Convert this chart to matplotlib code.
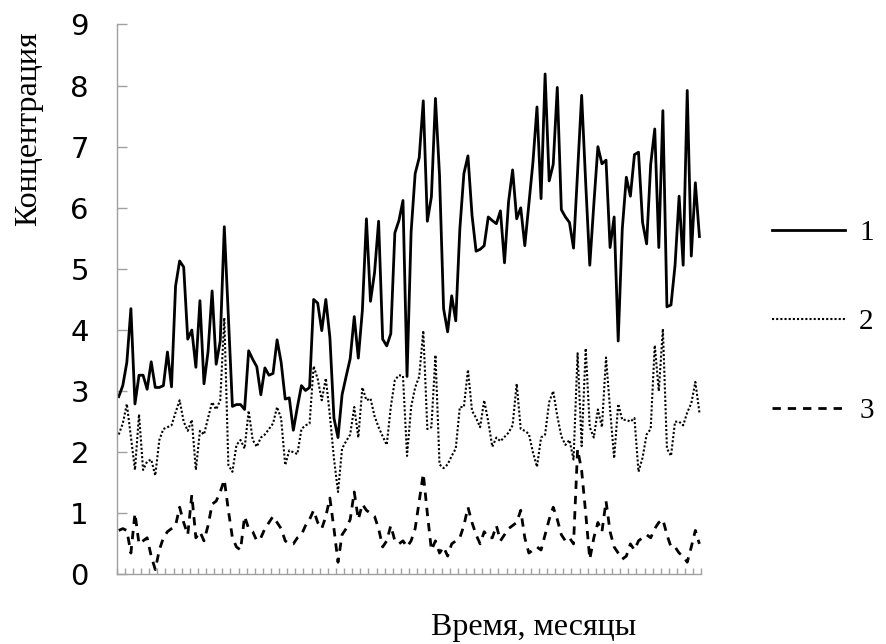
import numpy as np
import matplotlib
matplotlib.use('Agg')
import matplotlib.pyplot as plt

# series (monthly values, 144 months)
conc_1 = [2.91, 3.09, 3.47, 4.35, 2.79, 3.26, 3.26, 3.03, 3.48, 3.06,
          3.06, 3.09, 3.64, 3.07, 4.72, 5.13, 5.03, 3.85, 4.0, 3.39,
          4.48, 3.12, 3.65, 4.64, 3.44, 3.82, 5.69, 4.2, 2.75, 2.78,
          2.78, 2.7, 3.66, 3.52, 3.4, 2.94, 3.38, 3.26, 3.29, 3.84,
          3.47, 2.87, 2.89, 2.36, 2.74, 3.09, 3.01, 3.06, 4.5, 4.44,
          3.99, 4.5, 3.88, 2.56, 2.24, 2.94, 3.24, 3.53, 4.22, 3.54,
          4.32, 5.82, 4.47, 4.94, 5.78, 3.85, 3.74, 3.94, 5.59, 5.79,
          6.12, 3.24, 5.6, 6.56, 6.82, 7.75, 5.78, 6.18, 7.79, 6.53,
          4.35, 3.97, 4.56, 4.15, 5.65, 6.56, 6.85, 5.88, 5.29, 5.32,
          5.38, 5.85, 5.79, 5.74, 5.95, 5.1, 6.1, 6.62, 5.82, 6.0,
          5.38, 6.06, 6.74, 7.65, 6.15, 8.19, 6.44, 6.71, 7.97, 5.97,
          5.85, 5.76, 5.34, 6.6, 7.84, 6.4, 5.06, 6.06, 7.0, 6.72,
          6.78, 5.35, 5.85, 3.82, 5.65, 6.5, 6.19, 6.87, 6.91, 5.76,
          5.41, 6.71, 7.29, 5.35, 7.59, 4.38, 4.41, 5.06, 6.19, 5.06,
          7.92, 5.21, 6.41, 5.53]

conc_2 = [2.29, 2.47, 2.79, 2.25, 1.71, 2.62, 1.71, 1.85, 1.88, 1.62,
          2.2, 2.38, 2.41, 2.44, 2.65, 2.85, 2.5, 2.35, 2.53, 1.71,
          2.35, 2.29, 2.56, 2.82, 2.7, 2.85, 4.2, 1.79, 1.68, 2.12,
          2.2, 2.06, 2.68, 2.2, 2.09, 2.24, 2.29, 2.38, 2.47, 2.74,
          2.55, 1.79, 2.03, 2.0, 1.97, 2.38, 2.44, 2.47, 3.41, 3.2,
          2.85, 3.21, 2.6, 1.9, 1.35, 2.06, 2.18, 2.29, 2.74, 2.24,
          3.06, 2.85, 2.88, 2.59, 2.41, 2.26, 2.12, 2.74, 3.18, 3.26,
          3.25, 1.94, 2.74, 3.06, 3.24, 3.99, 2.38, 2.41, 3.59, 1.8,
          1.74, 1.8, 1.94, 2.06, 2.74, 2.74, 3.35, 2.68, 2.56, 2.41,
          2.85, 2.5, 2.09, 2.24, 2.18, 2.25, 2.32, 2.44, 3.12, 2.38,
          2.35, 2.3, 2.0, 1.76, 2.24, 2.29, 2.82, 3.0, 2.59, 2.26,
          2.12, 2.2, 1.88, 3.62, 2.1, 3.7, 2.41, 2.24, 2.7, 2.41,
          3.55, 2.7, 1.9, 2.79, 2.53, 2.53, 2.5, 2.56, 1.68, 1.91,
          2.29, 2.38, 3.75, 3.0, 4.02, 2.06, 1.94, 2.5, 2.5, 2.44,
          2.65, 2.8, 3.15, 2.65]

conc_3 = [0.72, 0.75, 0.72, 0.35, 1.0, 0.5, 0.55, 0.6, 0.3, 0.08,
          0.4, 0.6, 0.7, 0.75, 0.8, 1.1, 0.85, 0.65, 1.3, 0.6,
          0.7, 0.55, 0.8, 1.15, 1.2, 1.35, 1.55, 1.05, 0.6, 0.45,
          0.4, 0.95, 0.75, 0.7, 0.55, 0.6, 0.75, 0.85, 0.95, 0.85,
          0.75, 0.55, 0.5, 0.5, 0.6, 0.65, 0.8, 0.9, 1.05, 0.85,
          0.75, 0.95, 1.25, 0.75, 0.2, 0.65, 0.75, 0.9, 1.35, 0.9,
          1.15, 1.05, 1.0, 0.95, 0.75, 0.45, 0.55, 0.8, 0.55, 0.5,
          0.55, 0.45, 0.55, 0.75, 1.2, 1.65, 1.0, 0.4, 0.55, 0.35,
          0.45, 0.3, 0.5, 0.55, 0.6, 0.8, 1.1, 0.85, 0.65, 0.5,
          0.7, 0.6, 0.6, 0.8, 0.55, 0.65, 0.75, 0.8, 0.85, 1.05,
          0.6, 0.35, 0.4, 0.45, 0.4, 0.65, 0.9, 1.1, 0.9, 0.65,
          0.55, 0.6, 0.5, 2.05, 1.7, 1.0, 0.25, 0.6, 0.85, 0.7,
          1.2, 0.7, 0.45, 0.35, 0.25, 0.3, 0.5, 0.4, 0.55, 0.6,
          0.65, 0.6, 0.75, 0.85, 0.9, 0.65, 0.45, 0.45, 0.35, 0.3,
          0.2, 0.45, 0.72, 0.5]

series_names = ['1', '2', '3']
y_ticks = list(range(0, 10))
y_title = 'Концентрация'
x_title = 'Время, месяцы'

months = np.arange(len(conc_1))
grey = '#a0a0a0'
serif = 'Liberation Serif'

fig = plt.figure(figsize=(8.86, 6.44), dpi=100)
ax = fig.add_axes([0.1317, 0.108, 0.660, 0.854])

ax.plot(months, conc_1, color='black', lw=2.0, label=series_names[0])
ax.plot(months, conc_2, color='black', lw=1.5, linestyle=(0, (1, 1)),
        label=series_names[1])
ax.plot(months, conc_3, color='black', lw=2.0, linestyle=(0, (3, 2.5)),
        label=series_names[2])

ax.set_xlim(-0.5, len(months) - 0.5)
ax.set_ylim(0, 9)
ax.set_xticks(np.arange(-0.5, len(months), 2))
ax.set_xticklabels([])
ax.set_yticks(y_ticks)
ax.tick_params(axis='x', direction='in', length=4.5, width=1, color=grey)
ax.tick_params(axis='y', direction='in', length=7.5, width=1, color=grey,
               labelsize=21, pad=20)
for s in ['top', 'right']:
    ax.spines[s].set_visible(False)
for s in ['left', 'bottom']:
    ax.spines[s].set_color(grey)
    ax.spines[s].set_linewidth(1)

fig.text(0.032, 0.80, y_title, rotation=90, ha='center', va='center',
         family=serif, fontsize=23)
fig.text(0.602, 0.026, x_title, ha='center', va='center',
         family=serif, fontsize=23)

ax.legend(loc='upper left', bbox_to_anchor=(0.871, 0.659),
          bbox_transform=fig.transFigure, frameon=False,
          prop={'family': serif, 'size': 21}, handlelength=2.5,
          handletextpad=0.5, labelspacing=2.15, borderpad=0,
          borderaxespad=0)

fig.savefig('out.png', dpi=100)
